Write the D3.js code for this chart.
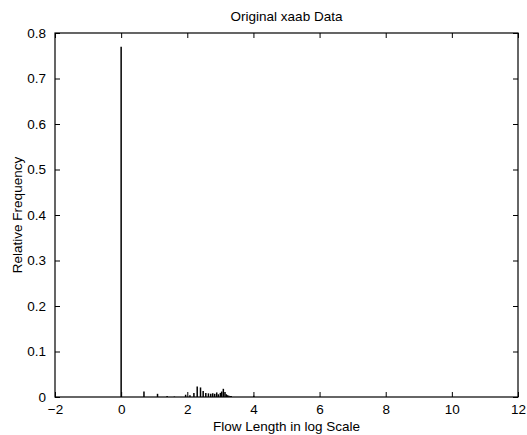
<!DOCTYPE html>
<html>
<head>
<meta charset="utf-8">
<script src="https://cdn.jsdelivr.net/npm/d3@7"></script>
<style>
  body { margin: 0; background: #fff; }
  text { font-family: "Liberation Sans", Arial, Helvetica, sans-serif; }
</style>
</head>
<body>
<div id="chart"></div>
<script>
// log of flow length (x) and relative frequency (y)
const logLength = [0, 0.69, 1.10, 1.39, 1.61, 1.95, 2.08, 2.20, 2.30, 2.40, 2.48, 2.56, 2.64, 2.71,
  2.77, 2.83, 2.89, 2.94, 3.00, 3.04, 3.09, 3.14, 3.18, 3.22, 3.26, 3.30, 3.33, 4.01];
const relFreq = [0.77, 0.012, 0.007, 0.002, 0.001, 0.005, 0.004, 0.009, 0.023, 0.021, 0.013, 0.009, 0.008, 0.007,
  0.008, 0.007, 0.010, 0.006, 0.009, 0.012, 0.018, 0.011, 0.006, 0.004, 0.003, 0.002, 0.002, 0.003];
const xTicks = [-2, 0, 2, 4, 6, 8, 10, 12];
const yTicks = [0, 0.1, 0.2, 0.3, 0.4, 0.5, 0.6, 0.7, 0.8];

const width = 527, height = 435;
const plotL = 55, plotR = 518, plotT = 33, plotB = 397;
const fontSize = 13.5;

const x = d3.scaleLinear().domain([-2, 12]).range([plotL, plotR]);
const y = d3.scaleLinear().domain([0, 0.8]).range([plotB, plotT]);

const svg = d3.select('#chart').append('svg')
  .attr('width', width)
  .attr('height', height);

// bars (drawn as thin stems)
svg.append('g')
  .selectAll('line')
  .data(logLength)
  .join('line')
  .attr('x1', d => x(d))
  .attr('x2', d => x(d))
  .attr('y1', y(0))
  .attr('y2', (d, i) => y(relFreq[i]))
  .attr('stroke', '#000')
  .attr('stroke-width', 1.5);

// axes, matlab style: ticks inside, box round the plot
const tickLen = 5;
svg.append('g')
  .attr('transform', `translate(0,${plotB})`)
  .call(d3.axisBottom(x).tickValues(xTicks).tickSizeInner(-tickLen).tickSizeOuter(0).tickPadding(7).tickFormat(d3.format('d')))
  .call(g => g.select('.domain').remove());
svg.append('g')
  .attr('transform', `translate(0,${plotT})`)
  .call(d3.axisTop(x).tickValues(xTicks).tickSizeInner(-tickLen).tickSizeOuter(0).tickFormat(''))
  .call(g => g.select('.domain').remove());
svg.append('g')
  .attr('transform', `translate(${plotL},0)`)
  .call(d3.axisLeft(y).tickValues(yTicks).tickSizeInner(-tickLen).tickSizeOuter(0).tickPadding(9).tickFormat(d => d === 0 ? '0' : d3.format('.1f')(d)))
  .call(g => g.select('.domain').remove());
svg.append('g')
  .attr('transform', `translate(${plotR},0)`)
  .call(d3.axisRight(y).tickValues(yTicks).tickSizeInner(-tickLen).tickSizeOuter(0).tickFormat(''))
  .call(g => g.select('.domain').remove());

svg.selectAll('.tick text')
  .attr('font-size', fontSize)
  .attr('fill', '#000')
  .style('font-family', '"Liberation Sans", Arial, sans-serif');
svg.selectAll('.tick line').attr('stroke', '#000');

svg.append('rect')
  .attr('x', plotL).attr('y', plotT)
  .attr('width', plotR - plotL).attr('height', plotB - plotT)
  .attr('fill', 'none')
  .attr('stroke', '#000')
  .attr('stroke-width', 1.2);

svg.append('text')
  .attr('x', (plotL + plotR) / 2).attr('y', 21)
  .attr('text-anchor', 'middle')
  .attr('font-size', fontSize)
  .text('Original xaab Data');

svg.append('text')
  .attr('x', (plotL + plotR) / 2).attr('y', 431)
  .attr('text-anchor', 'middle')
  .attr('font-size', fontSize)
  .text('Flow Length in log Scale');

svg.append('text')
  .attr('transform', `translate(22,${(plotT + plotB) / 2}) rotate(-90)`)
  .attr('text-anchor', 'middle')
  .attr('font-size', fontSize)
  .text('Relative Frequency');
</script>
</body>
</html>
